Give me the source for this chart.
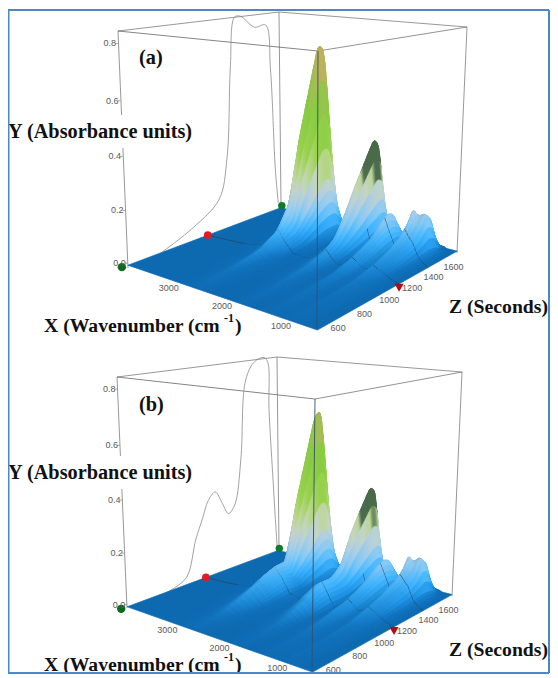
import numpy as np, altair as alt
alt.data_transformers.disable_max_rows()

WAVE_LEFT, WAVE_FRONT = 3650.0, 300.0
TIME_FRONT, TIME_BACK = 600.0, 1790.0
ABS_TOP = 0.85

wavenumbers = [300,370,470,570,640,700,770,870,970,1040,1140,1270,1370,1470,1570,1670,1840,2040,2180,2310,2440,2580,2800,3150,3650]
times = [600,778,956,1078,1195,1290,1373,1456,1529,1579,1623,1673,1718,1757,1790]

# each row: one spectrum, listed from 3650 down to 300 cm-1
spectra_a = [
 [0,0,.002,.003,.005,.008,.005,.003,.002,.003,.004,.006,.004,.003,.004,.006,.005,.004,.005,.006,.005,.005,.003,.001,0],
 [0,0,.002,.004,.008,.015,.008,.004,.003,.005,.008,.012,.007,.005,.006,.012,.010,.007,.008,.012,.009,.008,.004,.002,0],
 [0,0,.003,.006,.014,.028,.014,.006,.004,.008,.014,.022,.012,.007,.010,.020,.017,.010,.012,.018,.014,.012,.006,.002,0],
 [0,.001,.004,.010,.024,.05,.024,.009,.005,.012,.022,.034,.018,.009,.014,.03,.026,.014,.016,.025,.02,.016,.008,.003,0],
 [0,.002,.005,.016,.05,.09,.05,.014,.007,.018,.035,.055,.028,.012,.02,.05,.04,.02,.025,.04,.03,.025,.012,.004,0],
 [0,.002,.006,.022,.07,.18,.07,.018,.008,.025,.055,.09,.045,.015,.03,.07,.055,.03,.035,.055,.045,.035,.015,.005,0],
 [0,.003,.008,.04,.13,.42,.13,.03,.01,.04,.08,.17,.07,.02,.04,.09,.075,.04,.045,.075,.06,.05,.02,.006,0],
 [0,.003,.01,.06,.19,.6,.19,.045,.012,.05,.11,.26,.1,.025,.055,.13,.1,.05,.055,.10,.08,.065,.025,.007,0],
 [0,.003,.01,.07,.24,.76,.24,.05,.012,.06,.14,.33,.13,.03,.06,.16,.11,.055,.07,.14,.11,.09,.03,.008,0],
 [0,.003,.01,.07,.24,.74,.24,.05,.012,.07,.17,.38,.15,.03,.055,.15,.10,.05,.075,.19,.14,.12,.035,.008,0],
 [0,.002,.008,.05,.16,.5,.16,.035,.01,.075,.19,.42,.17,.03,.045,.10,.075,.04,.06,.15,.16,.16,.035,.007,0],
 [0,.001,.005,.02,.05,.12,.05,.012,.008,.075,.19,.38,.17,.025,.03,.05,.04,.025,.04,.08,.15,.14,.03,.005,0],
 [0,.001,.003,.006,.012,.02,.012,.006,.005,.03,.06,.1,.06,.012,.012,.02,.018,.012,.015,.03,.07,.06,.015,.003,0],
 [0,0,.002,.003,.005,.01,.006,.003,.003,.007,.012,.02,.012,.005,.005,.008,.008,.005,.007,.01,.02,.018,.006,.002,0],
 [0,0,.001,.002,.003,.005,.003,.002,.002,.003,.004,.005,.004,.002,.002,.003,.003,.002,.003,.004,.005,.004,.002,.001,0],
]
spectra_b = [
 [0,0,.002,.003,.005,.008,.005,.003,.002,.003,.004,.006,.004,.003,.004,.006,.005,.004,.005,.006,.005,.005,.003,.001,0],
 [0,0,.002,.005,.012,.02,.012,.005,.003,.006,.009,.013,.008,.005,.006,.012,.010,.007,.008,.012,.009,.008,.004,.002,0],
 [0,0,.004,.01,.03,.05,.03,.01,.006,.012,.02,.03,.016,.008,.012,.022,.018,.012,.012,.018,.014,.012,.006,.002,0],
 [0,.001,.006,.02,.06,.09,.06,.018,.01,.025,.055,.07,.04,.012,.02,.04,.03,.016,.018,.028,.022,.018,.008,.003,0],
 [0,.002,.008,.03,.08,.115,.08,.025,.012,.04,.085,.10,.06,.016,.025,.055,.045,.022,.028,.045,.035,.028,.014,.004,0],
 [0,.002,.007,.025,.06,.12,.06,.02,.01,.04,.08,.10,.055,.016,.03,.075,.06,.03,.04,.06,.05,.04,.016,.005,0],
 [0,.003,.008,.04,.11,.34,.11,.03,.01,.035,.07,.14,.06,.02,.04,.1,.08,.04,.05,.08,.065,.055,.02,.006,0],
 [0,.003,.01,.055,.16,.51,.16,.04,.012,.05,.1,.25,.09,.025,.055,.13,.1,.05,.055,.10,.08,.065,.025,.007,0],
 [0,.003,.01,.065,.21,.66,.21,.05,.012,.06,.13,.32,.12,.03,.06,.15,.11,.055,.07,.13,.11,.09,.03,.008,0],
 [0,.003,.01,.065,.21,.68,.21,.05,.012,.065,.15,.365,.14,.03,.055,.14,.10,.05,.07,.18,.13,.11,.035,.008,0],
 [0,.002,.008,.045,.15,.47,.15,.035,.01,.07,.17,.405,.16,.03,.045,.10,.075,.04,.06,.14,.16,.16,.035,.007,0],
 [0,.001,.005,.018,.05,.11,.05,.012,.008,.07,.17,.38,.16,.025,.03,.05,.04,.025,.04,.08,.15,.14,.03,.005,0],
 [0,.001,.003,.006,.012,.02,.012,.006,.005,.03,.06,.1,.06,.012,.012,.02,.018,.012,.015,.03,.07,.06,.015,.003,0],
 [0,0,.002,.003,.005,.01,.006,.003,.003,.007,.012,.02,.012,.005,.005,.008,.008,.005,.007,.01,.02,.018,.006,.002,0],
 [0,0,.001,.002,.003,.005,.003,.002,.002,.003,.004,.005,.004,.002,.002,.003,.003,.002,.003,.004,.005,.004,.002,.001,0],
]

profile_time_a = [826,1059,1262,1331,1370,1410,1456,1572,1665,1704,1742,1767]
profile_abs_a  = [0,.053,.132,.293,.653,.85,.851,.80,.803,.618,.177,.026]
profile_time_b = [884,1018,1096,1152,1198,1254,1310,1356,1412,1466,1514,1592,1671,1704,1711,1742,1767,1781]
profile_abs_b  = [0,.029,.172,.25,.315,.343,.286,.237,.269,.453,.773,.843,.854,.83,.637,.344,.12,.01]

x_ticks = [3000,2000,1000]
z_ticks = [600,800,1000,1200,1400,1600]
y_ticks = [0.0,0.2,0.4,0.6,0.8]
RAMP_H = [0,.015,.04,.08,.13,.18,.23,.29,.36,.5,.62,.72]
RAMP_C = ['#0e6ab0','#1272bc','#1f8ad4','#3ba6ea','#7ab8e0','#a2bdcf','#b4c3b0','#a6c47a','#8cc048','#7cba3c','#98ac50','#b89c58']

# box corners seen on the page: (wave side, time side, height side)
CORNERS = {
 'a': {(1,0,0):(128,268),(1,0,1):(118,31),(0,0,0):(317,328),(0,0,1):(318,51),
       (0,1,0):(457,253),(0,1,1):(467,27),(1,1,0):(281,205),(1,1,1):(279,12)},
 'b': {(1,0,0):(127,608),(1,0,1):(117,377),(0,0,0):(312,671),(0,0,1):(315,399),
       (0,1,0):(452,596),(0,1,1):(462,372),(1,1,0):(279,549),(1,1,1):(277,357)},
}

def camera(c):
    rows=[]
    for (u,v,w),(x,y) in c.items():
        rows.append([u,v,w,1,0,0,0,0,-x*u,-x*v,-x*w,-x])
        rows.append([0,0,0,0,u,v,w,1,-y*u,-y*v,-y*w,-y])
    return np.linalg.svd(np.array(rows,float))[2][-1].reshape(3,4)

def proj(P,u,v,w):
    q=P@np.stack([u,v,w,np.ones_like(u)])
    return q[0]/q[2],q[1]/q[2]

def U(w): return (np.asarray(w,float)-WAVE_FRONT)/(WAVE_LEFT-WAVE_FRONT)
def V(t): return (np.asarray(t,float)-TIME_FRONT)/(TIME_BACK-TIME_FRONT)
def W(h): return np.asarray(h,float)/ABS_TOP

def hex2(c): return np.array([int(c[i:i+2],16) for i in (1,3,5)],float)
RGB=np.array([hex2(c) for c in RAMP_C])
def tohex(v):
    v=np.clip(v,0,255).astype(int); return '#%02x%02x%02x'%tuple(v)

NA=100
features=[];rules=[];labels=[];xlabels=[];sans=[];ysans=[];points=[];curves=[];blocks=[];sup=[]
SLICE_LEFT,SLICE_RIGHT=1167.0,1233.0
SLICES=[(SLICE_LEFT,SLICE_RIGHT,0.0,1.0),(1500.0,1500.0,0.0,.31)]

def smooth(M):
    k=np.array([.25,.5,.25])
    for _ in range(6):
        M=np.apply_along_axis(lambda r:np.convolve(np.pad(r,1,mode='edge'),k,'valid'),0,M)
    return M

def build(name,spectra,ptime,pabs,ydy):
    P=camera(CORNERS[name])
    M=np.array(spectra,float)[:,::-1]
    ua=np.linspace(0,1,NA+1)
    vb=np.concatenate([np.linspace(0,.4,14)[:-1],np.linspace(.4,1,110)]); NB=len(vb)-1
    wa=WAVE_FRONT+ua*(WAVE_LEFT-WAVE_FRONT); tb=TIME_FRONT+vb*(TIME_BACK-TIME_FRONT)
    R=np.array([np.interp(wa,wavenumbers,r) for r in M])
    G=np.array([np.interp(tb,times,R[:,j]) for j in range(R.shape[1])]).T
    G=smooth(G)
    uu,vv=np.meshgrid(ua,vb)
    X,Y=proj(P,uu.ravel(),vv.ravel(),W(G).ravel())
    X=X.reshape(G.shape);Y=Y.reshape(G.shape)
    du=np.gradient(G,ua,axis=1)
    fx,fy=proj(P,np.array([1.,0,0,1]),np.array([0.,0,1,1]),np.zeros(4))
    ring=[[round(float(a),1),round(float(b),1)] for a,b in zip(fx,fy)]
    features.append({'type':'Feature','geometry':{'type':'Polygon','coordinates':[ring+[ring[0]]]},'properties':{'c':RAMP_C[0]}})
    segs={}
    for tl,tr,u0,u1 in SLICES:
        sv=V(tr+(tl-tr)*ua)
        sh=np.array([np.interp(sv[i],vb,G[:,i]) for i in range(NA+1)])
        sx,sy=proj(P,ua,sv,W(sh))
        for i in range(NA):
            if u0<=ua[i]<u1:
                j=int(np.searchsorted(vb,sv[i],side='right'))-1
                segs.setdefault((j,i),[]).append([[round(float(sx[i]),1),round(float(sy[i]),1)],[round(float(sx[i+1]),1),round(float(sy[i+1]),1)]])
    for j in range(NB-1,-1,-1):
        for i in range(NA-1,-1,-1):
            h=G[j:j+2,i:i+2].mean()
            if h>=.004:
                col=np.array([np.interp(h,RAMP_H,RGB[:,k]) for k in range(3)])
                lat=np.clip(du[j,i]/1.5,-1,1)
                col=col*(1+.1*lat*min(1,h/.03+.2))
                f=0
                if .25<ua[i]<.46:
                    f=np.clip((h-.27)/.02,0,1)
                    if ua[i]>.37: f=max(f,np.clip((h-.12)/.03,0,1))
                if f>0: col=col*(1-.85*f)+hex2('#3c5a48')*.85*f
                ring=[[round(float(X[j+a,i+b]),1),round(float(Y[j+a,i+b]),1)] for a,b in ((0,0),(0,1),(1,1),(1,0),(0,0))]
                features.append({'type':'Feature','geometry':{'type':'Polygon','coordinates':[ring]},'properties':{'c':tohex(col)}})
            for seg in segs.get((j,i),[]):
                features.append({'type':'Feature','geometry':{'type':'LineString','coordinates':seg},'properties':{'c':'#23405c'}})
    c=CORNERS[name]
    def edge(p,q,col='#7d7d7d',sw=.8,layer='back'):
        rules.append(dict(x=c[p][0],y=c[p][1],x2=c[q][0],y2=c[q][1],col=col,sw=sw,layer=layer))
    edge((1,0,0),(1,0,1));edge((1,1,0),(1,1,1));edge((0,1,0),(0,1,1),'#999999',1)
    edge((1,0,1),(1,1,1));edge((1,1,1),(0,1,1));edge((1,0,1),(0,0,1),'#666666');edge((0,0,1),(0,1,1),'#777777')
    edge((0,0,0),(0,0,1),'#33506a',.9,'front')
    px,py=proj(P,np.ones(len(ptime)),V(ptime),W(pabs))
    for k,(a,b) in enumerate(zip(px,py)): curves.append(dict(x=float(a),y=float(b),k=k,panel=name))
    for v in y_ticks:
        a,b=proj(P,np.array([1.]),np.array([0.]),W([v]))
        ysans.append(dict(x=float(a[0])-2,y=float(b[0])-2,t=f'{v:.1f}'))
        rules.append(dict(x=float(a[0])-3,y=float(b[0])-2,x2=float(a[0]),y2=float(b[0])-2,col='#888888',sw=.7,layer='back'))
    for v in x_ticks:
        a,b=proj(P,U([v]),np.array([0.]),np.array([0.]))
        sans.append(dict(x=float(a[0])+9,y=float(b[0])+12,t=str(v)))
    for v in z_ticks:
        a,b=proj(P,np.array([0.]),V([v+40*(1600-v)/1000]),np.array([0.]))
        sans.append(dict(x=float(a[0])+15,y=float(b[0])+5-4*(1600-v)/1000,t=str(v)))
    for wv,tm,col,sh,sz,dx,dy in ((1,TIME_FRONT,'#0b6a1e','circle',70,-6,2),(1,SLICE_LEFT,'#e01b24','circle',60,0,0),
                            (1,TIME_BACK,'#0f7a2a','circle',55,1,-2),(0,SLICE_RIGHT,'#b00d12','triangle-down',85,0,4)):
        a,b=proj(P,np.array([float(wv)]),V([tm]),np.array([0.]))
        points.append(dict(x=float(a[0])+dx,y=float(b[0])+dy,col=col,sh=sh,sz=sz))
    labels.append(dict(x=139,y=58+ydy,t=f'({name})'))
    labels.append(dict(x=8,y=(132 if name=='a' else 473),t='Y (Absorbance units)'))
    xy=326 if name=='a' else 665
    xlabels.append(dict(x=44,y=xy,t='X (Wavenumber (cm'))
    xlabels.append(dict(x=235,y=xy,t=')'))
    xlabels.append(dict(x=449,y=(307 if name=='a' else 650),t='Z (Seconds)'))
    sup.append(dict(x=224,y=xy-8,t='-1'))
    blocks.append(dict(x=8,x2=192,y=(115 if name=='a' else 456),y2=(148 if name=='a' else 489)))

build('a',spectra_a,profile_time_a,profile_abs_a,0)
build('b',spectra_b,profile_time_b,profile_abs_b,347)

X=lambda f='x':alt.X(f'{f}:Q',scale=alt.Scale(domain=[8,550],nice=False,zero=False),axis=None)
Y=lambda f='y':alt.Y(f'{f}:Q',scale=alt.Scale(domain=[8,674],reverse=True,nice=False,zero=False),axis=None)

def rule_layer(rows):
    return alt.Chart(alt.Data(values=rows)).mark_rule().encode(
        x=X(),y=Y(),x2='x2:Q',y2='y2:Q',
        color=alt.Color('col:N',scale=None),strokeWidth=alt.StrokeWidth('sw:Q',scale=None))

border=[dict(x=8,y=10,x2=549,y2=10),dict(x=549,y=10,x2=549,y2=673),dict(x=8,y=673,x2=549,y2=673),dict(x=8.5,y=10,x2=8.5,y2=673)]
for r in border: r.update(col='#4f86c6',sw=2)
back=[r for r in rules if r['layer']=='back']; front=[r for r in rules if r['layer']=='front']

def serif(rows,size):
    return alt.Chart(alt.Data(values=rows)).mark_text(font='Liberation Serif',fontWeight='bold',fontSize=size,color='#111111',baseline='middle',align='left').encode(
     x=X(),y=Y(),text='t:N')

layers=[
 rule_layer(back),
 alt.Chart(alt.Data(values=curves)).mark_line(color='#8a8a8a',strokeWidth=.8,interpolate='catmull-rom').encode(x=X(),y=Y(),detail='panel:N',order='k:Q'),
 alt.Chart(alt.Data(values=blocks)).mark_rect(color='white').encode(x=X(),x2='x2:Q',y=Y(),y2='y2:Q'),
 alt.Chart(alt.Data(values=features)).mark_geoshape(strokeWidth=.7).encode(
     color=alt.Color('properties.c:N',scale=None),stroke=alt.Stroke('properties.c:N',scale=None)
 ).project(type='identity',scale=1,translate=[-8,-8]),
 rule_layer(front),
 alt.Chart(alt.Data(values=points)).mark_point(filled=True,opacity=1).encode(
     x=X(),y=Y(),color=alt.Color('col:N',scale=None),shape=alt.Shape('sh:N',scale=None),size=alt.Size('sz:Q',scale=None)),
 alt.Chart(alt.Data(values=sans)).mark_text(font='Liberation Sans',fontSize=9,color='#5a5a5a',baseline='middle',align='center').encode(
     x=X(),y=Y(),text='t:N'),
 alt.Chart(alt.Data(values=ysans)).mark_text(font='Liberation Sans',fontSize=9,color='#5a5a5a',baseline='middle',align='right').encode(
     x=X(),y=Y(),text='t:N'),
 serif(labels,20.3),
 serif(xlabels,19.7),
 serif(sup,12),
 rule_layer(border),
]
chart=alt.layer(*layers).properties(width=542,height=666,padding=0,background='white',
    autosize=alt.AutoSizeParams(type='none')).configure_view(stroke=None)
chart.save('out.html',embed_options={'renderer':'svg','actions':False})
